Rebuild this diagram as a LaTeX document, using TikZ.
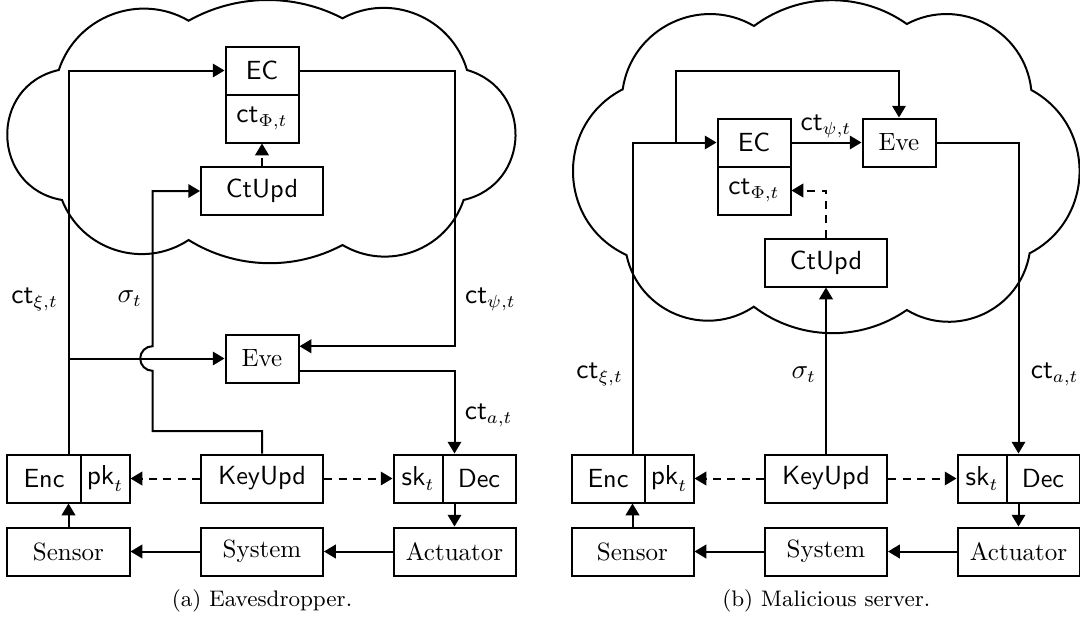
\documentclass[tikz,border=0pt]{standalone}
\usetikzlibrary{arrows.meta,calc}
\begin{document}
\begin{tikzpicture}[x=0.4pt,y=-0.4pt,
  blk/.style={draw, line width=0.8pt, inner sep=0pt, minimum height=19.2pt, anchor=center},
  sbox/.style={blk, font=\fontsize{10.5}{12}\sffamily},
  rbox/.style={blk, font=\rmfamily},
  wbig/.style={minimum width=48.8pt},
  wmid/.style={minimum width=29.2pt},
  wsml/.style={minimum width=19.6pt},
  arr/.style={-{Triangle[length=4.7pt,width=5.4pt]}, line width=0.8pt},
  dsh/.style={arr, dash pattern=on 3.2pt off 2.6pt},
  lbl/.style={inner sep=0pt, anchor=base, font=\fontsize{10.5}{12}\selectfont},
  capt/.style={inner sep=0pt, anchor=base, font=\small},
  cloudline/.style={line width=0.8pt}
]
\useasboundingbox (0,0) rectangle (1080,620);

% ---------------- clouds ----------------
\draw[cloudline] (62,200) to[bend left=78.8, looseness=1.42] (58.8,70)
  to[bend left=51, looseness=1.045] (188.6,20.7)
  to[bend left=28.4, looseness=0.907] (342.5,18.3)
  to[bend left=51, looseness=1.045] (467,70)
  to[bend left=75.4, looseness=1.36] (463.6,200)
  to[bend left=51, looseness=1.045] (342.5,245)
  to[bend left=30, looseness=0.913] (188.6,240)
  to[bend left=51, looseness=1.045] (62,200) -- cycle;

\draw[cloudline] (626.5,255) to[bend left=64, looseness=1.18] (622.7,89.3)
  to[bend left=56, looseness=1.09] (754,26)
  to[bend left=36, looseness=0.94] (906.8,24)
  to[bend left=56, looseness=1.09] (1031.3,90)
  to[bend left=62, looseness=1.16] (1029.6,253.3)
  to[bend left=56, looseness=1.09] (906.8,310)
  to[bend left=36, looseness=0.94] (753.8,306.7)
  to[bend left=56, looseness=1.09] (626.5,255) -- cycle;

% ---------------- panel (a) ----------------
\node[sbox,wmid] (encA) at (44,478.5) {Enc};
\node[sbox,wsml] (pkA) at (105,478.5) {$\mathsf{pk}_t$};
\node[sbox,wbig] (keyA) at (262,478.5) {KeyUpd};
\node[sbox,wsml] (skA) at (418,478.5) {$\mathsf{sk}_t$};
\node[sbox,wmid] (decA) at (479,478.5) {Dec};
\node[rbox,wbig] (sensorA) at (68.5,551.5) {Sensor};
\node[rbox,wbig] (systemA) at (262,551.5) {System};
\node[rbox,wbig] (actA) at (454.5,551.5) {Actuator};
\node[rbox,wmid] (eveA) at (262,358.5) {Eve};
\node[sbox,wmid] (ecA) at (262,70.5) {EC};
\node[sbox,wmid] (ctphiA) at (262,118.5) {$\mathsf{ct}_{\Phi,t}$};
\node[sbox,wbig] (ctupdA) at (262,191) {CtUpd};

\coordinate (brA) at (sensorA.north |- eveA.west);
\coordinate (sgA) at (152.5,431);
\coordinate (hpA) at (152.5,370.8);
\coordinate (einA) at ([yshift=4.9pt]eveA.east);
\coordinate (eoutA) at ([yshift=-4.9pt]eveA.east);

\draw[arr] (sensorA.north |- encA.north) |- (ecA.west);
\draw[arr] (brA) -- (eveA.west);
\draw[arr] (keyA.north) |- (sgA) -- (hpA) arc[start angle=90, end angle=270, radius=12.3] |- (ctupdA.west);
\draw[arr] (ecA.east) -| (actA.north |- einA) -- (einA);
\draw[arr] (eoutA) -| (actA.north |- decA.north);
\draw[dsh] (ctupdA.north) -- (ctphiA.south);
\draw[dsh] (keyA.west) -- (pkA.east);
\draw[dsh] (keyA.east) -- (skA.west);
\draw[arr] (actA.north |- decA.south) -- (actA.north);
\draw[arr] (sensorA.north) -- (sensorA.north |- encA.south);
\draw[arr] (actA.west) -- (systemA.east);
\draw[arr] (systemA.west) -- (sensorA.east);

\node[lbl] (lxiA) at (34.6,303.5) {$\mathsf{ct}_{\xi,t}$};
\node[lbl] (lsgA) at (129.8,302.5) {$\sigma_t$};
\node[lbl] (lpsiA) at (490.5,303.5) {$\mathsf{ct}_{\psi,t}$};
\node[lbl] (laA) at (488.7,419.3) {$\mathsf{ct}_{a,t}$};
\node[capt] (capA) at (262,606) {(a) Eavesdropper.};

% ---------------- panel (b) ----------------
\node[sbox,wmid] (encB) at (608,478.5) {Enc};
\node[sbox,wsml] (pkB) at (669,478.5) {$\mathsf{pk}_t$};
\node[sbox,wbig] (keyB) at (826,478.5) {KeyUpd};
\node[sbox,wsml] (skB) at (982,478.5) {$\mathsf{sk}_t$};
\node[sbox,wmid] (decB) at (1043,478.5) {Dec};
\node[rbox,wbig] (sensorB) at (632.5,551.5) {Sensor};
\node[rbox,wbig] (systemB) at (826,551.5) {System};
\node[rbox,wbig] (actB) at (1018.5,551.5) {Actuator};
\node[sbox,wmid] (ecB) at (754,142.5) {EC};
\node[sbox,wmid] (ctphiB) at (754,190.5) {$\mathsf{ct}_{\Phi,t}$};
\node[rbox,wmid] (eveB) at (899,142.5) {Eve};
\node[sbox,wbig] (ctupdB) at (826,262.5) {CtUpd};

\coordinate (brB) at (676,142.5);
\coordinate (tpB) at (676,70.7);

\draw[arr] (sensorB.north |- encB.north) |- (ecB.west);
\draw[arr] (brB) -- (tpB) -| (eveB.north);
\draw[arr] (ecB.east) -- (eveB.west);
\draw[arr] (eveB.east) -| (actB.north |- decB.north);
\draw[arr] (keyB.north) -- (ctupdB.south);
\draw[dsh] (ctupdB.north) |- (ctphiB.east);
\draw[dsh] (keyB.west) -- (pkB.east);
\draw[dsh] (keyB.east) -- (skB.west);
\draw[arr] (actB.north |- decB.south) -- (actB.north);
\draw[arr] (sensorB.north) -- (sensorB.north |- encB.south);
\draw[arr] (actB.west) -- (systemB.east);
\draw[arr] (systemB.west) -- (sensorB.east);

\node[lbl] (lxiB) at (599.7,378.3) {$\mathsf{ct}_{\xi,t}$};
\node[lbl] (lsgB) at (803.8,378) {$\sigma_t$};
\node[lbl] (laB) at (1054.7,378.3) {$\mathsf{ct}_{a,t}$};
\node[lbl] (lpsiB) at (826,130) {$\mathsf{ct}_{\psi,t}$};
\node[capt] (capB) at (826.3,606) {(b) Malicious server.};
\end{tikzpicture}
\end{document}
